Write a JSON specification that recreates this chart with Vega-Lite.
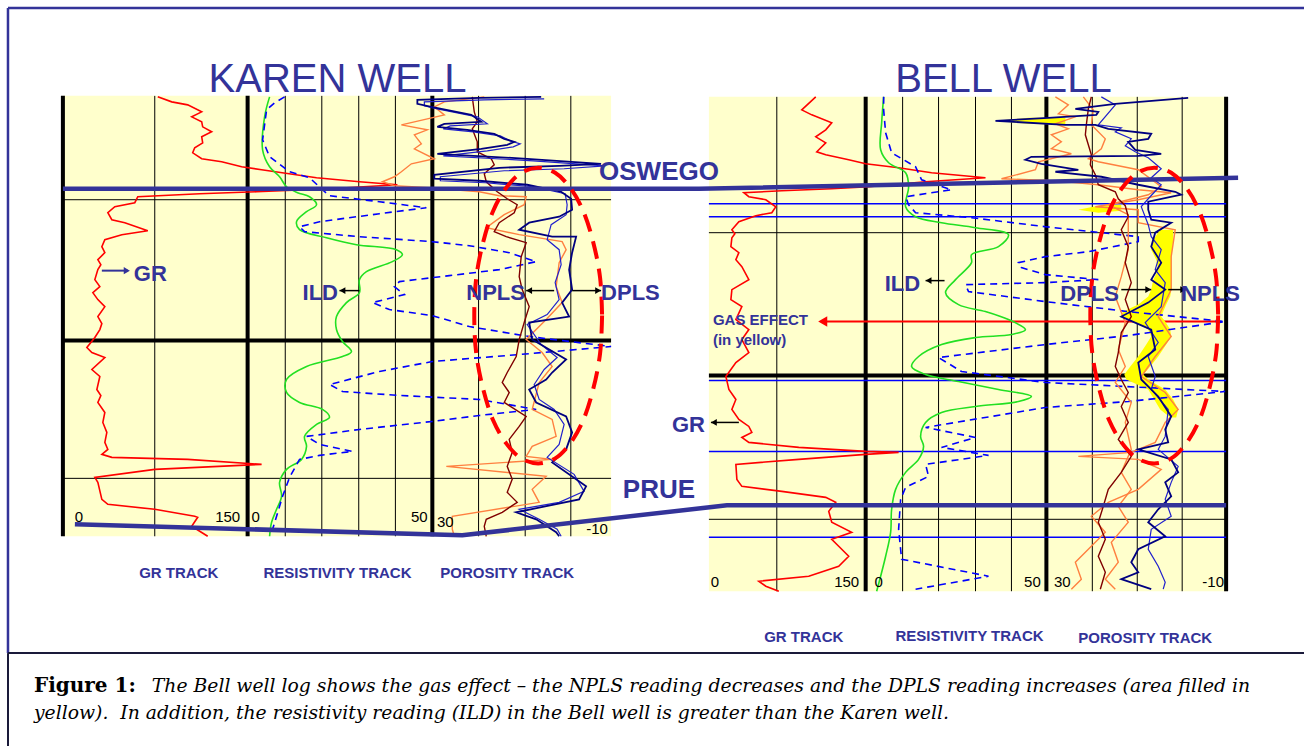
{
"$schema": "https://vega.github.io/schema/vega-lite/v6.json",
"width": 1306, "height": 747,
"autosize": {"type": "fit", "contains": "padding"},
"padding": 0,
"background": "white",
"config": {"view": {"stroke": null}},
"datasets": {
"panels": [{"x":63,"x2":612,"y":96,"y2":537},{"x":710,"x2":1228,"y":97,"y2":592}],
"gridThin": [
{"x":155,"x2":155,"y":96,"y2":537},{"x":285.7,"x2":285.7,"y":96,"y2":537},{"x":322.3,"x2":322.3,"y":96,"y2":537},{"x":359.3,"x2":359.3,"y":96,"y2":537},{"x":396,"x2":396,"y":96,"y2":537},{"x":479.3,"x2":479.3,"y":96,"y2":537},{"x":526,"x2":526,"y":96,"y2":537},{"x":571.7,"x2":571.7,"y":96,"y2":537},
{"x":63,"x2":612,"y":200,"y2":200},{"x":63,"x2":612,"y":479,"y2":479},
{"x":778,"x2":778,"y":97,"y2":592},{"x":904,"x2":904,"y":97,"y2":592},{"x":940,"x2":940,"y":97,"y2":592},{"x":977,"x2":977,"y":97,"y2":592},{"x":1013,"x2":1013,"y":97,"y2":592},{"x":1094,"x2":1094,"y":97,"y2":592},{"x":1139,"x2":1139,"y":97,"y2":592},{"x":1184,"x2":1184,"y":97,"y2":592},
{"x":710,"x2":1228,"y":233,"y2":233},{"x":710,"x2":1228,"y":520,"y2":520}],
"gridThick": [
{"x":63,"x2":63,"y":96,"y2":537},{"x":248,"x2":248,"y":96,"y2":537},{"x":433,"x2":433,"y":96,"y2":537},{"x":63,"x2":612,"y":341,"y2":341},
{"x":867,"x2":867,"y":97,"y2":592},{"x":1048,"x2":1048,"y":97,"y2":592},{"x":1228,"x2":1228,"y":97,"y2":592},{"x":710,"x2":1228,"y":376,"y2":376}],
"bellBlue": [{"x":710,"x2":1228,"y":204},{"x":710,"x2":1228,"y":217},{"x":710,"x2":1228,"y":381},{"x":710,"x2":1228,"y":452},{"x":710,"x2":1228,"y":538}],
"gasLine": [{"x":822,"x2":1218,"y":322}],
"gasHead": [{"x":824,"y":322}],
"yellowMain": [
{"y":230,"xa":1162,"xb":1175},{"y":240,"xa":1155,"xb":1175},{"y":250,"xa":1153,"xb":1174},{"y":260,"xa":1158,"xb":1173},{"y":270,"xa":1160,"xb":1173},{"y":280,"xa":1155,"xb":1173},{"y":290,"xa":1153,"xb":1173},{"y":297,"xa":1150,"xb":1172},{"y":305,"xa":1140,"xb":1168},{"y":312,"xa":1125,"xb":1165},{"y":317,"xa":1122,"xb":1163},{"y":322,"xa":1135,"xb":1167},{"y":330,"xa":1150,"xb":1172},{"y":337,"xa":1153,"xb":1173},{"y":345,"xa":1148,"xb":1168},{"y":357,"xa":1140,"xb":1160},{"y":367,"xa":1132,"xb":1152},{"y":375,"xa":1126,"xb":1145},{"y":380,"xa":1128,"xb":1150},{"y":390,"xa":1150,"xb":1167},{"y":400,"xa":1156,"xb":1175},{"y":410,"xa":1162,"xb":1180},{"y":418,"xa":1172,"xb":1178}],
"yellowSliver": [
{"g":"a","x":997,"ya":121,"yb":121},{"g":"a","x":1030,"ya":118,"yb":124},{"g":"a","x":1067,"ya":118,"yb":125},
{"g":"b","x":1080,"ya":210,"yb":210},{"g":"b","x":1100,"ya":206,"yb":213},{"g":"b","x":1123,"ya":205,"yb":211}],
"red": [
{"s":"K","x":158,"y":97},{"s":"K","x":172,"y":102},{"s":"K","x":188,"y":105},{"s":"K","x":202,"y":112},{"s":"K","x":192,"y":117},{"s":"K","x":202,"y":122},{"s":"K","x":203,"y":127},{"s":"K","x":212,"y":132},{"s":"K","x":202,"y":137},{"s":"K","x":203,"y":143},{"s":"K","x":195,"y":148},{"s":"K","x":193,"y":153},{"s":"K","x":202,"y":159},{"s":"K","x":222,"y":162},{"s":"K","x":242,"y":167},{"s":"K","x":262,"y":170},{"s":"K","x":317,"y":178},{"s":"K","x":360,"y":182},{"s":"K","x":398,"y":185},{"s":"K","x":330,"y":189},{"s":"K","x":257,"y":192},{"s":"K","x":200,"y":194},{"s":"K","x":138,"y":197},{"s":"K","x":135,"y":203},{"s":"K","x":115,"y":207},{"s":"K","x":108,"y":213},{"s":"K","x":112,"y":220},{"s":"K","x":125,"y":223},{"s":"K","x":148,"y":231},{"s":"K","x":122,"y":235},{"s":"K","x":105,"y":240},{"s":"K","x":102,"y":247},{"s":"K","x":105,"y":253},{"s":"K","x":98,"y":260},{"s":"K","x":101,"y":265},{"s":"K","x":98,"y":270},{"s":"K","x":95,"y":280},{"s":"K","x":100,"y":287},{"s":"K","x":93,"y":293},{"s":"K","x":98,"y":300},{"s":"K","x":105,"y":307},{"s":"K","x":98,"y":317},{"s":"K","x":102,"y":324},{"s":"K","x":100,"y":330},{"s":"K","x":95,"y":338},{"s":"K","x":87,"y":348},{"s":"K","x":92,"y":353},{"s":"K","x":105,"y":358},{"s":"K","x":92,"y":370},{"s":"K","x":100,"y":377},{"s":"K","x":97,"y":390},{"s":"K","x":101,"y":396},{"s":"K","x":98,"y":403},{"s":"K","x":105,"y":413},{"s":"K","x":103,"y":423},{"s":"K","x":107,"y":433},{"s":"K","x":105,"y":443},{"s":"K","x":108,"y":450},{"s":"K","x":102,"y":455},{"s":"K","x":112,"y":458},{"s":"K","x":188,"y":460},{"s":"K","x":262,"y":465},{"s":"K","x":155,"y":470},{"s":"K","x":95,"y":478},{"s":"K","x":98,"y":483},{"s":"K","x":102,"y":500},{"s":"K","x":108,"y":505},{"s":"K","x":155,"y":510},{"s":"K","x":195,"y":517},{"s":"K","x":198,"y":518},{"s":"K","x":192,"y":527},{"s":"K","x":208,"y":537},
{"s":"B","x":817,"y":97},{"s":"B","x":803,"y":110},{"s":"B","x":813,"y":115},{"s":"B","x":833,"y":123},{"s":"B","x":827,"y":130},{"s":"B","x":817,"y":137},{"s":"B","x":827,"y":143},{"s":"B","x":818,"y":152},{"s":"B","x":827,"y":155},{"s":"B","x":850,"y":160},{"s":"B","x":867,"y":164},{"s":"B","x":900,"y":168},{"s":"B","x":933,"y":173},{"s":"B","x":987,"y":178},{"s":"B","x":927,"y":182},{"s":"B","x":870,"y":187},{"s":"B","x":833,"y":189},{"s":"B","x":783,"y":191},{"s":"B","x":745,"y":193},{"s":"B","x":750,"y":197},{"s":"B","x":767,"y":200},{"s":"B","x":777,"y":207},{"s":"B","x":773,"y":213},{"s":"B","x":757,"y":216},{"s":"B","x":740,"y":222},{"s":"B","x":733,"y":230},{"s":"B","x":736,"y":234},{"s":"B","x":733,"y":238},{"s":"B","x":732,"y":247},{"s":"B","x":740,"y":253},{"s":"B","x":737,"y":260},{"s":"B","x":743,"y":267},{"s":"B","x":750,"y":280},{"s":"B","x":733,"y":290},{"s":"B","x":732,"y":300},{"s":"B","x":743,"y":307},{"s":"B","x":737,"y":320},{"s":"B","x":750,"y":330},{"s":"B","x":743,"y":340},{"s":"B","x":750,"y":353},{"s":"B","x":737,"y":363},{"s":"B","x":727,"y":377},{"s":"B","x":730,"y":390},{"s":"B","x":737,"y":400},{"s":"B","x":733,"y":410},{"s":"B","x":740,"y":420},{"s":"B","x":750,"y":427},{"s":"B","x":753,"y":433},{"s":"B","x":743,"y":438},{"s":"B","x":750,"y":443},{"s":"B","x":800,"y":448},{"s":"B","x":867,"y":452},{"s":"B","x":900,"y":453},{"s":"B","x":867,"y":455},{"s":"B","x":800,"y":460},{"s":"B","x":737,"y":465},{"s":"B","x":738,"y":480},{"s":"B","x":743,"y":487},{"s":"B","x":783,"y":492},{"s":"B","x":827,"y":498},{"s":"B","x":837,"y":503},{"s":"B","x":830,"y":512},{"s":"B","x":833,"y":523},{"s":"B","x":853,"y":533},{"s":"B","x":833,"y":540},{"s":"B","x":840,"y":547},{"s":"B","x":850,"y":557},{"s":"B","x":840,"y":567},{"s":"B","x":810,"y":577},{"s":"B","x":760,"y":582},{"s":"B","x":767,"y":587},{"s":"B","x":780,"y":592}],
"green": [
{"s":"K","x":270,"y":97},{"s":"K","x":265,"y":117},{"s":"K","x":263,"y":150},{"s":"K","x":270,"y":167},{"s":"K","x":280,"y":177},{"s":"K","x":287,"y":187},{"s":"K","x":298,"y":193},{"s":"K","x":310,"y":197},{"s":"K","x":317,"y":205},{"s":"K","x":307,"y":212},{"s":"K","x":297,"y":222},{"s":"K","x":300,"y":230},{"s":"K","x":327,"y":238},{"s":"K","x":357,"y":245},{"s":"K","x":397,"y":250},{"s":"K","x":403,"y":255},{"s":"K","x":393,"y":262},{"s":"K","x":367,"y":272},{"s":"K","x":360,"y":280},{"s":"K","x":360,"y":293},{"s":"K","x":347,"y":303},{"s":"K","x":337,"y":317},{"s":"K","x":337,"y":330},{"s":"K","x":343,"y":342},{"s":"K","x":352,"y":352},{"s":"K","x":343,"y":357},{"s":"K","x":307,"y":367},{"s":"K","x":287,"y":380},{"s":"K","x":287,"y":393},{"s":"K","x":300,"y":403},{"s":"K","x":323,"y":410},{"s":"K","x":330,"y":418},{"s":"K","x":317,"y":425},{"s":"K","x":305,"y":437},{"s":"K","x":307,"y":447},{"s":"K","x":302,"y":460},{"s":"K","x":287,"y":470},{"s":"K","x":280,"y":483},{"s":"K","x":282,"y":497},{"s":"K","x":277,"y":510},{"s":"K","x":272,"y":523},{"s":"K","x":270,"y":537},
{"s":"B","x":885,"y":97},{"s":"B","x":883,"y":123},{"s":"B","x":882,"y":150},{"s":"B","x":890,"y":163},{"s":"B","x":907,"y":173},{"s":"B","x":910,"y":187},{"s":"B","x":907,"y":207},{"s":"B","x":917,"y":217},{"s":"B","x":943,"y":223},{"s":"B","x":977,"y":228},{"s":"B","x":1010,"y":235},{"s":"B","x":1000,"y":247},{"s":"B","x":973,"y":255},{"s":"B","x":973,"y":263},{"s":"B","x":957,"y":280},{"s":"B","x":947,"y":293},{"s":"B","x":960,"y":305},{"s":"B","x":987,"y":312},{"s":"B","x":1010,"y":320},{"s":"B","x":1027,"y":330},{"s":"B","x":1013,"y":335},{"s":"B","x":977,"y":338},{"s":"B","x":943,"y":345},{"s":"B","x":920,"y":357},{"s":"B","x":913,"y":367},{"s":"B","x":927,"y":375},{"s":"B","x":960,"y":382},{"s":"B","x":1000,"y":390},{"s":"B","x":1033,"y":397},{"s":"B","x":1020,"y":402},{"s":"B","x":977,"y":407},{"s":"B","x":943,"y":413},{"s":"B","x":927,"y":423},{"s":"B","x":922,"y":437},{"s":"B","x":925,"y":447},{"s":"B","x":920,"y":460},{"s":"B","x":907,"y":473},{"s":"B","x":897,"y":490},{"s":"B","x":893,"y":510},{"s":"B","x":892,"y":533},{"s":"B","x":887,"y":557},{"s":"B","x":882,"y":577},{"s":"B","x":878,"y":592}],
"dash": [
{"s":"K","x":285,"y":97},{"s":"K","x":275,"y":103},{"s":"K","x":267,"y":110},{"s":"K","x":263,"y":140},{"s":"K","x":270,"y":157},{"s":"K","x":290,"y":172},{"s":"K","x":310,"y":178},{"s":"K","x":323,"y":190},{"s":"K","x":330,"y":196},{"s":"K","x":380,"y":202},{"s":"K","x":427,"y":208},{"s":"K","x":380,"y":214},{"s":"K","x":320,"y":222},{"s":"K","x":300,"y":227},{"s":"K","x":305,"y":232},{"s":"K","x":360,"y":237},{"s":"K","x":433,"y":242},{"s":"K","x":470,"y":246},{"s":"K","x":510,"y":253},{"s":"K","x":537,"y":262},{"s":"K","x":500,"y":270},{"s":"K","x":450,"y":276},{"s":"K","x":433,"y":278},{"s":"K","x":400,"y":282},{"s":"K","x":395,"y":287},{"s":"K","x":405,"y":295},{"s":"K","x":385,"y":300},{"s":"K","x":373,"y":303},{"s":"K","x":390,"y":310},{"s":"K","x":433,"y":316},{"s":"K","x":470,"y":327},{"s":"K","x":530,"y":337},{"s":"K","x":612,"y":347},{"s":"K","x":520,"y":355},{"s":"K","x":433,"y":362},{"s":"K","x":380,"y":372},{"s":"K","x":330,"y":385},{"s":"K","x":343,"y":392},{"s":"K","x":400,"y":396},{"s":"K","x":480,"y":400},{"s":"K","x":537,"y":410},{"s":"K","x":480,"y":416},{"s":"K","x":433,"y":422},{"s":"K","x":360,"y":430},{"s":"K","x":307,"y":437},{"s":"K","x":320,"y":445},{"s":"K","x":353,"y":452},{"s":"K","x":320,"y":456},{"s":"K","x":300,"y":460},{"s":"K","x":290,"y":478},{"s":"K","x":283,"y":497},{"s":"K","x":277,"y":517},{"s":"K","x":273,"y":530},{"s":"K","x":272,"y":537},
{"s":"B","x":885,"y":97},{"s":"B","x":885,"y":110},{"s":"B","x":887,"y":133},{"s":"B","x":893,"y":153},{"s":"B","x":917,"y":167},{"s":"B","x":923,"y":180},{"s":"B","x":953,"y":190},{"s":"B","x":907,"y":197},{"s":"B","x":910,"y":205},{"s":"B","x":917,"y":213},{"s":"B","x":973,"y":218},{"s":"B","x":1047,"y":227},{"s":"B","x":1140,"y":237},{"s":"B","x":1140,"y":242},{"s":"B","x":1090,"y":252},{"s":"B","x":1047,"y":257},{"s":"B","x":1020,"y":263},{"s":"B","x":1023,"y":268},{"s":"B","x":1047,"y":275},{"s":"B","x":1100,"y":280},{"s":"B","x":1047,"y":283},{"s":"B","x":967,"y":285},{"s":"B","x":970,"y":292},{"s":"B","x":1047,"y":302},{"s":"B","x":1130,"y":312},{"s":"B","x":1227,"y":322},{"s":"B","x":1130,"y":336},{"s":"B","x":1047,"y":345},{"s":"B","x":940,"y":358},{"s":"B","x":963,"y":372},{"s":"B","x":1047,"y":383},{"s":"B","x":1227,"y":392},{"s":"B","x":1130,"y":402},{"s":"B","x":1047,"y":408},{"s":"B","x":927,"y":428},{"s":"B","x":977,"y":438},{"s":"B","x":943,"y":448},{"s":"B","x":990,"y":456},{"s":"B","x":927,"y":465},{"s":"B","x":930,"y":477},{"s":"B","x":907,"y":488},{"s":"B","x":902,"y":500},{"s":"B","x":900,"y":530},{"s":"B","x":903,"y":560},{"s":"B","x":990,"y":577},{"s":"B","x":917,"y":590}],
"orange": [
{"s":"K","x":485,"y":97},{"s":"K","x":445,"y":102},{"s":"K","x":435,"y":107},{"s":"K","x":445,"y":115},{"s":"K","x":428,"y":119},{"s":"K","x":402,"y":125},{"s":"K","x":428,"y":130},{"s":"K","x":415,"y":135},{"s":"K","x":422,"y":144},{"s":"K","x":415,"y":149},{"s":"K","x":435,"y":159},{"s":"K","x":412,"y":164},{"s":"K","x":402,"y":172},{"s":"K","x":395,"y":177},{"s":"K","x":383,"y":182},{"s":"K","x":395,"y":186},{"s":"K","x":430,"y":188},{"s":"K","x":480,"y":192},{"s":"K","x":500,"y":196},{"s":"K","x":527,"y":197},{"s":"K","x":525,"y":205},{"s":"K","x":505,"y":215},{"s":"K","x":487,"y":228},{"s":"K","x":520,"y":235},{"s":"K","x":563,"y":242},{"s":"K","x":567,"y":250},{"s":"K","x":560,"y":263},{"s":"K","x":557,"y":287},{"s":"K","x":563,"y":303},{"s":"K","x":547,"y":320},{"s":"K","x":527,"y":340},{"s":"K","x":543,"y":353},{"s":"K","x":553,"y":367},{"s":"K","x":540,"y":383},{"s":"K","x":533,"y":410},{"s":"K","x":553,"y":420},{"s":"K","x":557,"y":437},{"s":"K","x":533,"y":447},{"s":"K","x":527,"y":457},{"s":"K","x":553,"y":460},{"s":"K","x":447,"y":467},{"s":"K","x":547,"y":477},{"s":"K","x":533,"y":490},{"s":"K","x":540,"y":503},{"s":"K","x":453,"y":517},{"s":"K","x":453,"y":530},{"s":"K","x":455,"y":537},
{"s":"B1","x":1057,"y":97},{"s":"B1","x":1070,"y":105},{"s":"B1","x":1060,"y":114},{"s":"B1","x":1077,"y":117},{"s":"B1","x":1057,"y":124},{"s":"B1","x":1070,"y":129},{"s":"B1","x":1053,"y":135},{"s":"B1","x":1063,"y":142},{"s":"B1","x":1053,"y":149},{"s":"B1","x":1073,"y":154},{"s":"B1","x":1040,"y":162},{"s":"B1","x":1037,"y":170},{"s":"B1","x":1003,"y":179},{"s":"B1","x":1057,"y":181},{"s":"B1","x":1100,"y":185},{"s":"B1","x":1140,"y":190},{"s":"B1","x":1173,"y":193},{"s":"B1","x":1140,"y":200},{"s":"B1","x":1097,"y":207},{"s":"B1","x":1140,"y":210},{"s":"B1","x":1140,"y":223},{"s":"B1","x":1177,"y":230},{"s":"B1","x":1173,"y":257},{"s":"B1","x":1173,"y":290},{"s":"B1","x":1160,"y":317},{"s":"B1","x":1173,"y":337},{"s":"B1","x":1157,"y":357},{"s":"B1","x":1143,"y":377},{"s":"B1","x":1167,"y":393},{"s":"B1","x":1180,"y":410},{"s":"B1","x":1167,"y":423},{"s":"B1","x":1157,"y":443},{"s":"B1","x":1133,"y":453},{"s":"B1","x":1080,"y":457},{"s":"B1","x":1140,"y":460},{"s":"B1","x":1163,"y":470},{"s":"B1","x":1140,"y":490},{"s":"B1","x":1110,"y":503},{"s":"B1","x":1093,"y":517},{"s":"B1","x":1107,"y":533},{"s":"B1","x":1090,"y":550},{"s":"B1","x":1077,"y":563},{"s":"B1","x":1083,"y":580},{"s":"B1","x":1073,"y":590},
{"s":"B2","x":1085,"y":97},{"s":"B2","x":1095,"y":110},{"s":"B2","x":1093,"y":125},{"s":"B2","x":1107,"y":139},{"s":"B2","x":1103,"y":149},{"s":"B2","x":1090,"y":159},{"s":"B2","x":1100,"y":162},{"s":"B2","x":1140,"y":170},{"s":"B2","x":1163,"y":187},{"s":"B2","x":1150,"y":195},{"s":"B2","x":1110,"y":205},{"s":"B2","x":1130,"y":215},{"s":"B2","x":1130,"y":223},{"s":"B2","x":1130,"y":250},{"s":"B2","x":1123,"y":277},{"s":"B2","x":1117,"y":297},{"s":"B2","x":1127,"y":323},{"s":"B2","x":1120,"y":350},{"s":"B2","x":1127,"y":367},{"s":"B2","x":1117,"y":383},{"s":"B2","x":1133,"y":403},{"s":"B2","x":1127,"y":423},{"s":"B2","x":1133,"y":450},{"s":"B2","x":1123,"y":473},{"s":"B2","x":1133,"y":490},{"s":"B2","x":1120,"y":507},{"s":"B2","x":1130,"y":523},{"s":"B2","x":1113,"y":543},{"s":"B2","x":1120,"y":563},{"s":"B2","x":1107,"y":580},{"s":"B2","x":1117,"y":590}],
"brown": [
{"s":"K","x":473,"y":97},{"s":"K","x":475,"y":112},{"s":"K","x":478,"y":122},{"s":"K","x":473,"y":129},{"s":"K","x":478,"y":142},{"s":"K","x":478,"y":152},{"s":"K","x":492,"y":159},{"s":"K","x":495,"y":165},{"s":"K","x":485,"y":174},{"s":"K","x":487,"y":182},{"s":"K","x":498,"y":192},{"s":"K","x":508,"y":199},{"s":"K","x":518,"y":205},{"s":"K","x":515,"y":213},{"s":"K","x":500,"y":223},{"s":"K","x":495,"y":232},{"s":"K","x":507,"y":237},{"s":"K","x":527,"y":243},{"s":"K","x":522,"y":257},{"s":"K","x":520,"y":277},{"s":"K","x":523,"y":290},{"s":"K","x":530,"y":307},{"s":"K","x":525,"y":323},{"s":"K","x":520,"y":340},{"s":"K","x":517,"y":357},{"s":"K","x":508,"y":373},{"s":"K","x":503,"y":383},{"s":"K","x":510,"y":393},{"s":"K","x":505,"y":403},{"s":"K","x":527,"y":417},{"s":"K","x":520,"y":427},{"s":"K","x":510,"y":440},{"s":"K","x":513,"y":453},{"s":"K","x":508,"y":467},{"s":"K","x":513,"y":480},{"s":"K","x":508,"y":493},{"s":"K","x":518,"y":503},{"s":"K","x":503,"y":513},{"s":"K","x":487,"y":520},{"s":"K","x":485,"y":527},{"s":"K","x":487,"y":537},
{"s":"B","x":1093,"y":97},{"s":"B","x":1090,"y":109},{"s":"B","x":1088,"y":125},{"s":"B","x":1087,"y":135},{"s":"B","x":1090,"y":145},{"s":"B","x":1093,"y":155},{"s":"B","x":1092,"y":165},{"s":"B","x":1097,"y":175},{"s":"B","x":1100,"y":185},{"s":"B","x":1117,"y":192},{"s":"B","x":1120,"y":199},{"s":"B","x":1127,"y":206},{"s":"B","x":1130,"y":217},{"s":"B","x":1123,"y":230},{"s":"B","x":1130,"y":247},{"s":"B","x":1127,"y":263},{"s":"B","x":1133,"y":283},{"s":"B","x":1127,"y":300},{"s":"B","x":1133,"y":317},{"s":"B","x":1123,"y":333},{"s":"B","x":1120,"y":353},{"s":"B","x":1117,"y":367},{"s":"B","x":1123,"y":380},{"s":"B","x":1130,"y":393},{"s":"B","x":1123,"y":407},{"s":"B","x":1130,"y":423},{"s":"B","x":1120,"y":440},{"s":"B","x":1133,"y":457},{"s":"B","x":1123,"y":473},{"s":"B","x":1110,"y":490},{"s":"B","x":1105,"y":507},{"s":"B","x":1100,"y":523},{"s":"B","x":1107,"y":540},{"s":"B","x":1100,"y":557},{"s":"B","x":1107,"y":573},{"s":"B","x":1102,"y":590}],
"navy": [
{"s":"K","x":542,"y":97},{"s":"K","x":480,"y":98},{"s":"K","x":418,"y":100},{"s":"K","x":418,"y":104},{"s":"K","x":432,"y":107},{"s":"K","x":472,"y":115},{"s":"K","x":482,"y":122},{"s":"K","x":445,"y":124},{"s":"K","x":438,"y":127},{"s":"K","x":468,"y":130},{"s":"K","x":495,"y":134},{"s":"K","x":505,"y":139},{"s":"K","x":515,"y":142},{"s":"K","x":508,"y":145},{"s":"K","x":482,"y":149},{"s":"K","x":438,"y":154},{"s":"K","x":528,"y":159},{"s":"K","x":602,"y":164},{"s":"K","x":560,"y":166},{"s":"K","x":500,"y":168},{"s":"K","x":435,"y":175},{"s":"K","x":435,"y":179},{"s":"K","x":480,"y":181},{"s":"K","x":528,"y":185},{"s":"K","x":562,"y":192},{"s":"K","x":572,"y":199},{"s":"K","x":573,"y":210},{"s":"K","x":560,"y":217},{"s":"K","x":530,"y":223},{"s":"K","x":520,"y":230},{"s":"K","x":553,"y":237},{"s":"K","x":577,"y":237},{"s":"K","x":573,"y":253},{"s":"K","x":570,"y":270},{"s":"K","x":573,"y":290},{"s":"K","x":563,"y":303},{"s":"K","x":570,"y":317},{"s":"K","x":530,"y":323},{"s":"K","x":533,"y":340},{"s":"K","x":567,"y":360},{"s":"K","x":553,"y":373},{"s":"K","x":547,"y":380},{"s":"K","x":530,"y":390},{"s":"K","x":537,"y":403},{"s":"K","x":567,"y":417},{"s":"K","x":573,"y":433},{"s":"K","x":567,"y":450},{"s":"K","x":553,"y":463},{"s":"K","x":587,"y":487},{"s":"K","x":580,"y":500},{"s":"K","x":517,"y":513},{"s":"K","x":537,"y":520},{"s":"K","x":557,"y":533},{"s":"K","x":560,"y":537},
{"s":"B","x":1190,"y":98},{"s":"B","x":1117,"y":104},{"s":"B","x":1077,"y":109},{"s":"B","x":1100,"y":112},{"s":"B","x":1098,"y":115},{"s":"B","x":1050,"y":118},{"s":"B","x":997,"y":121},{"s":"B","x":1067,"y":125},{"s":"B","x":1097,"y":125},{"s":"B","x":1110,"y":129},{"s":"B","x":1153,"y":134},{"s":"B","x":1150,"y":139},{"s":"B","x":1130,"y":142},{"s":"B","x":1137,"y":150},{"s":"B","x":1163,"y":154},{"s":"B","x":1140,"y":156},{"s":"B","x":1033,"y":157},{"s":"B","x":1027,"y":160},{"s":"B","x":1043,"y":164},{"s":"B","x":1080,"y":170},{"s":"B","x":1057,"y":172},{"s":"B","x":1103,"y":177},{"s":"B","x":1140,"y":185},{"s":"B","x":1177,"y":192},{"s":"B","x":1183,"y":195},{"s":"B","x":1150,"y":202},{"s":"B","x":1150,"y":210},{"s":"B","x":1153,"y":220},{"s":"B","x":1173,"y":223},{"s":"B","x":1157,"y":233},{"s":"B","x":1153,"y":247},{"s":"B","x":1163,"y":263},{"s":"B","x":1153,"y":280},{"s":"B","x":1167,"y":290},{"s":"B","x":1150,"y":303},{"s":"B","x":1123,"y":317},{"s":"B","x":1153,"y":330},{"s":"B","x":1157,"y":350},{"s":"B","x":1140,"y":363},{"s":"B","x":1143,"y":380},{"s":"B","x":1160,"y":397},{"s":"B","x":1173,"y":417},{"s":"B","x":1167,"y":430},{"s":"B","x":1170,"y":443},{"s":"B","x":1140,"y":450},{"s":"B","x":1173,"y":460},{"s":"B","x":1180,"y":473},{"s":"B","x":1167,"y":483},{"s":"B","x":1173,"y":497},{"s":"B","x":1160,"y":510},{"s":"B","x":1150,"y":523},{"s":"B","x":1167,"y":537},{"s":"B","x":1140,"y":550},{"s":"B","x":1133,"y":563},{"s":"B","x":1140,"y":573},{"s":"B","x":1123,"y":580},{"s":"B","x":1153,"y":590}],
"blue": [
{"s":"K","x":545,"y":99},{"s":"K","x":485,"y":100},{"s":"K","x":425,"y":102},{"s":"K","x":425,"y":106},{"s":"K","x":438,"y":109},{"s":"K","x":478,"y":117},{"s":"K","x":488,"y":124},{"s":"K","x":451,"y":126},{"s":"K","x":444,"y":129},{"s":"K","x":474,"y":132},{"s":"K","x":501,"y":136},{"s":"K","x":511,"y":141},{"s":"K","x":521,"y":144},{"s":"K","x":514,"y":147},{"s":"K","x":488,"y":151},{"s":"K","x":444,"y":156},{"s":"K","x":534,"y":161},{"s":"K","x":606,"y":166},{"s":"K","x":565,"y":169},{"s":"K","x":505,"y":171},{"s":"K","x":441,"y":177},{"s":"K","x":441,"y":181},{"s":"K","x":486,"y":183},{"s":"K","x":534,"y":187},{"s":"K","x":566,"y":194},{"s":"K","x":568,"y":205},{"s":"K","x":567,"y":215},{"s":"K","x":552,"y":225},{"s":"K","x":548,"y":240},{"s":"K","x":560,"y":250},{"s":"K","x":562,"y":265},{"s":"K","x":556,"y":283},{"s":"K","x":560,"y":300},{"s":"K","x":548,"y":315},{"s":"K","x":528,"y":325},{"s":"K","x":542,"y":345},{"s":"K","x":558,"y":358},{"s":"K","x":545,"y":370},{"s":"K","x":535,"y":385},{"s":"K","x":540,"y":400},{"s":"K","x":555,"y":410},{"s":"K","x":565,"y":425},{"s":"K","x":560,"y":445},{"s":"K","x":548,"y":458},{"s":"K","x":575,"y":475},{"s":"K","x":585,"y":492},{"s":"K","x":560,"y":503},{"s":"K","x":520,"y":510},{"s":"K","x":540,"y":520},{"s":"K","x":558,"y":530},{"s":"K","x":562,"y":537},
{"s":"B","x":1103,"y":97},{"s":"B","x":1117,"y":105},{"s":"B","x":1100,"y":125},{"s":"B","x":1123,"y":128},{"s":"B","x":1117,"y":132},{"s":"B","x":1133,"y":139},{"s":"B","x":1127,"y":146},{"s":"B","x":1137,"y":152},{"s":"B","x":1150,"y":158},{"s":"B","x":1163,"y":169},{"s":"B","x":1153,"y":178},{"s":"B","x":1163,"y":185},{"s":"B","x":1150,"y":199},{"s":"B","x":1143,"y":207},{"s":"B","x":1150,"y":225},{"s":"B","x":1153,"y":237},{"s":"B","x":1163,"y":250},{"s":"B","x":1157,"y":270},{"s":"B","x":1167,"y":283},{"s":"B","x":1163,"y":307},{"s":"B","x":1147,"y":323},{"s":"B","x":1160,"y":343},{"s":"B","x":1150,"y":357},{"s":"B","x":1157,"y":377},{"s":"B","x":1153,"y":390},{"s":"B","x":1170,"y":410},{"s":"B","x":1167,"y":437},{"s":"B","x":1160,"y":450},{"s":"B","x":1180,"y":467},{"s":"B","x":1173,"y":483},{"s":"B","x":1167,"y":500},{"s":"B","x":1173,"y":517},{"s":"B","x":1153,"y":530},{"s":"B","x":1150,"y":550},{"s":"B","x":1160,"y":567},{"s":"B","x":1167,"y":583},{"s":"B","x":1165,"y":590}],
"formations": [
{"s":"OSWEGO","x":63,"y":189},{"s":"OSWEGO","x":700,"y":189},{"s":"OSWEGO","x":1240,"y":178},
{"s":"PRUE","x":75,"y":525},{"s":"PRUE","x":463,"y":536},{"s":"PRUE","x":728,"y":506},{"s":"PRUE","x":1228,"y":506}],
"ellipses": [
{"s":"K","x":603,"y":316},{"s":"K","x":601,"y":354},{"s":"K","x":594,"y":390},{"s":"K","x":584,"y":421},{"s":"K","x":571,"y":444},{"s":"K","x":556,"y":459},{"s":"K","x":539,"y":464},{"s":"K","x":522,"y":459},{"s":"K","x":507,"y":444},{"s":"K","x":494,"y":421},{"s":"K","x":484,"y":390},{"s":"K","x":477,"y":354},{"s":"K","x":475,"y":316},{"s":"K","x":477,"y":278},{"s":"K","x":484,"y":242},{"s":"K","x":494,"y":211},{"s":"K","x":507,"y":188},{"s":"K","x":522,"y":173},{"s":"K","x":539,"y":168},{"s":"K","x":556,"y":173},{"s":"K","x":571,"y":188},{"s":"K","x":584,"y":211},{"s":"K","x":594,"y":242},{"s":"K","x":601,"y":278},{"s":"K","x":603,"y":316},
{"s":"B","x":1220,"y":316},{"s":"B","x":1218,"y":354},{"s":"B","x":1211,"y":390},{"s":"B","x":1201,"y":421},{"s":"B","x":1188,"y":444},{"s":"B","x":1173,"y":459},{"s":"B","x":1156,"y":464},{"s":"B","x":1139,"y":459},{"s":"B","x":1124,"y":444},{"s":"B","x":1111,"y":421},{"s":"B","x":1101,"y":390},{"s":"B","x":1094,"y":354},{"s":"B","x":1092,"y":316},{"s":"B","x":1094,"y":278},{"s":"B","x":1101,"y":242},{"s":"B","x":1111,"y":211},{"s":"B","x":1124,"y":188},{"s":"B","x":1139,"y":173},{"s":"B","x":1156,"y":168},{"s":"B","x":1173,"y":173},{"s":"B","x":1188,"y":188},{"s":"B","x":1201,"y":211},{"s":"B","x":1211,"y":242},{"s":"B","x":1218,"y":278},{"s":"B","x":1220,"y":316}],
"arrowsBlack": [{"x":340,"x2":360,"y":291},{"x":527,"x2":555,"y":291},{"x":573,"x2":602,"y":291},{"x":927,"x2":946,"y":281},{"x":1123,"x2":1153,"y":290},{"x":1170,"x2":1188,"y":290},{"x":712,"x2":740,"y":423}],
"headsBlack": [{"x":343,"y":291,"d":"L"},{"x":530,"y":291,"d":"L"},{"x":599,"y":291,"d":"R"},{"x":930,"y":281,"d":"L"},{"x":1150,"y":290,"d":"R"},{"x":1185,"y":290,"d":"R"},{"x":715,"y":423,"d":"L"}],
"arrowNavy": [{"x":102,"x2":128,"y":271}],
"headNavy": [{"x":127,"y":271}],
"frameNavy": [{"x":8,"x2":1306,"y":8,"y2":8},{"x":8,"x2":8,"y":8,"y2":654}],
"frameDark": [{"x":8,"x2":1306,"y":654,"y2":654},{"x":8,"x2":8,"y":654,"y2":747}],
"titles": [{"t":"KAREN WELL","x":338,"y":92},{"t":"BELL WELL","x":1005,"y":92}],
"formLabels": [{"t":"OSWEGO","x":660,"y":180},{"t":"PRUE","x":660,"y":499}],
"curveLabels": [{"t":"GR","x":134,"y":281},{"t":"ILD","x":303,"y":300},{"t":"NPLS","x":467,"y":300},{"t":"DPLS","x":602,"y":300},{"t":"ILD","x":886,"y":291},{"t":"DPLS","x":1062,"y":301},{"t":"NPLS","x":1183,"y":301},{"t":"GR","x":673,"y":433}],
"gasLabels": [{"t":"GAS EFFECT","x":714,"y":325},{"t":"(in yellow)","x":714,"y":345}],
"trackLabels": [{"t":"GR TRACK","x":179,"y":579},{"t":"RESISTIVITY TRACK","x":338,"y":579},{"t":"POROSITY TRACK","x":508,"y":579},{"t":"GR TRACK","x":805,"y":643},{"t":"RESISTIVITY TRACK","x":971,"y":642},{"t":"POROSITY TRACK","x":1147,"y":644}],
"nums": [{"t":"0","x":79,"y":523},{"t":"150","x":228,"y":523},{"t":"0","x":256,"y":523},{"t":"50","x":420,"y":523},{"t":"30","x":446,"y":528},{"t":"-10","x":598,"y":535},{"t":"0","x":716,"y":588},{"t":"150","x":848,"y":588},{"t":"0","x":880,"y":588},{"t":"50","x":1034,"y":588},{"t":"30","x":1064,"y":588},{"t":"-10","x":1215,"y":588}],
"capBold": [{"t":"Figure 1:","x":34,"y":693}],
"capItalic": [{"t":"The Bell well log shows the gas effect – the NPLS reading decreases and the DPLS reading increases (area filled in","x":152,"y":693},{"t":"yellow).\u00a0 In addition, the resistivity reading (ILD) in the Bell well is greater than the Karen well.","x":34,"y":720}]
},
"encoding": {
"x": {"field": "x", "type": "quantitative", "scale": {"domain": [0, 1306], "nice": false, "zero": false}, "axis": null},
"y": {"field": "y", "type": "quantitative", "scale": {"domain": [0, 747], "nice": false, "zero": false, "reverse": true}, "axis": null}
},
"layer": [
{"data": {"name": "panels"}, "mark": {"type": "rect", "fill": "#FFFFCC"}, "encoding": {"x2": {"field": "x2"}, "y2": {"field": "y2"}}},
{"data": {"name": "gridThin"}, "mark": {"type": "rule", "color": "#000000", "strokeWidth": 1}, "encoding": {"x2": {"field": "x2"}, "y2": {"field": "y2"}}},
{"data": {"name": "gridThick"}, "mark": {"type": "rule", "color": "#000000", "strokeWidth": 4}, "encoding": {"x2": {"field": "x2"}, "y2": {"field": "y2"}}},
{"data": {"name": "bellBlue"}, "mark": {"type": "rule", "color": "#0000FF", "strokeWidth": 1.5}, "encoding": {"x2": {"field": "x2"}}},
{"data": {"name": "gasLine"}, "mark": {"type": "rule", "color": "#FF0000", "strokeWidth": 2}, "encoding": {"x2": {"field": "x2"}}},
{"data": {"name": "gasHead"}, "mark": {"type": "point", "filled": true, "color": "#FF0000", "size": 110, "opacity": 1, "shape": "triangle-left"}},
{"data": {"name": "yellowMain"}, "mark": {"type": "area", "orient": "horizontal", "color": "#FFFF00", "opacity": 1}, "encoding": {"x": {"field": "xa", "type": "quantitative"}, "x2": {"field": "xb"}}},
{"data": {"name": "yellowSliver"}, "mark": {"type": "area", "orient": "vertical", "color": "#FFFF00", "opacity": 1}, "encoding": {"y": {"field": "ya", "type": "quantitative"}, "y2": {"field": "yb"}, "detail": {"field": "g", "type": "nominal"}}},
{"data": {"name": "red"}, "mark": {"type": "line", "color": "#FF0000", "strokeWidth": 1.6}, "encoding": {"detail": {"field": "s", "type": "nominal"}, "order": {"value": null}}},
{"data": {"name": "green"}, "mark": {"type": "line", "color": "#22E022", "strokeWidth": 1.6, "interpolate": "catmull-rom"}, "encoding": {"detail": {"field": "s", "type": "nominal"}, "order": {"value": null}}},
{"data": {"name": "dash"}, "mark": {"type": "line", "color": "#0000FF", "strokeWidth": 1.6, "strokeDash": [7, 5]}, "encoding": {"detail": {"field": "s", "type": "nominal"}, "order": {"value": null}}},
{"data": {"name": "orange"}, "mark": {"type": "line", "color": "#FF8040", "strokeWidth": 1.4}, "encoding": {"detail": {"field": "s", "type": "nominal"}, "order": {"value": null}}},
{"data": {"name": "brown"}, "mark": {"type": "line", "color": "#800000", "strokeWidth": 1.4}, "encoding": {"detail": {"field": "s", "type": "nominal"}, "order": {"value": null}}},
{"data": {"name": "blue"}, "mark": {"type": "line", "color": "#2020CC", "strokeWidth": 1.2}, "encoding": {"detail": {"field": "s", "type": "nominal"}, "order": {"value": null}}},
{"data": {"name": "navy"}, "mark": {"type": "line", "color": "#000080", "strokeWidth": 1.8}, "encoding": {"detail": {"field": "s", "type": "nominal"}, "order": {"value": null}}},
{"data": {"name": "formations"}, "mark": {"type": "line", "color": "#333399", "strokeWidth": 4.5}, "encoding": {"detail": {"field": "s", "type": "nominal"}, "order": {"value": null}}},
{"data": {"name": "ellipses"}, "mark": {"type": "line", "color": "#FF0000", "strokeWidth": 4, "strokeDash": [18, 10], "interpolate": "catmull-rom"}, "encoding": {"detail": {"field": "s", "type": "nominal"}, "order": {"value": null}}},
{"data": {"name": "arrowsBlack"}, "mark": {"type": "rule", "color": "#000000", "strokeWidth": 1.5}, "encoding": {"x2": {"field": "x2"}}},
{"data": {"name": "headsBlack"}, "mark": {"type": "point", "filled": true, "color": "#000000", "size": 45, "opacity": 1}, "encoding": {"shape": {"field": "d", "type": "nominal", "scale": {"domain": ["L", "R"], "range": ["triangle-left", "triangle-right"]}, "legend": null}}},
{"data": {"name": "arrowNavy"}, "mark": {"type": "rule", "color": "#333399", "strokeWidth": 2}, "encoding": {"x2": {"field": "x2"}}},
{"data": {"name": "headNavy"}, "mark": {"type": "point", "filled": true, "color": "#333399", "size": 50, "opacity": 1, "shape": "triangle-right"}},
{"data": {"name": "frameNavy"}, "mark": {"type": "rule", "color": "#333399", "strokeWidth": 2.5}, "encoding": {"x2": {"field": "x2"}, "y2": {"field": "y2"}}},
{"data": {"name": "frameDark"}, "mark": {"type": "rule", "color": "#1A1A3A", "strokeWidth": 2}, "encoding": {"x2": {"field": "x2"}, "y2": {"field": "y2"}}},
{"data": {"name": "titles"}, "mark": {"type": "text", "font": "Liberation Sans", "fontSize": 40, "color": "#333399", "align": "center", "baseline": "alphabetic"}, "encoding": {"text": {"field": "t"}}},
{"data": {"name": "formLabels"}, "mark": {"type": "text", "font": "Liberation Sans", "fontSize": 26, "fontWeight": "bold", "color": "#333399", "align": "center", "baseline": "alphabetic"}, "encoding": {"text": {"field": "t"}}},
{"data": {"name": "curveLabels"}, "mark": {"type": "text", "font": "Liberation Sans", "fontSize": 22, "fontWeight": "bold", "color": "#333399", "align": "left", "baseline": "alphabetic"}, "encoding": {"text": {"field": "t"}}},
{"data": {"name": "gasLabels"}, "mark": {"type": "text", "font": "Liberation Sans", "fontSize": 15, "fontWeight": "bold", "color": "#333399", "align": "left", "baseline": "alphabetic"}, "encoding": {"text": {"field": "t"}}},
{"data": {"name": "trackLabels"}, "mark": {"type": "text", "font": "Liberation Sans", "fontSize": 15, "fontWeight": "bold", "color": "#333399", "align": "center", "baseline": "alphabetic"}, "encoding": {"text": {"field": "t"}}},
{"data": {"name": "nums"}, "mark": {"type": "text", "font": "Liberation Sans", "fontSize": 15, "color": "#000000", "align": "center", "baseline": "alphabetic"}, "encoding": {"text": {"field": "t"}}},
{"data": {"name": "capBold"}, "mark": {"type": "text", "font": "DejaVu Serif", "fontSize": 20, "fontWeight": "bold", "color": "#000000", "align": "left", "baseline": "alphabetic"}, "encoding": {"text": {"field": "t"}}},
{"data": {"name": "capItalic"}, "mark": {"type": "text", "font": "DejaVu Serif", "fontSize": 18.8, "fontStyle": "italic", "color": "#000000", "align": "left", "baseline": "alphabetic"}, "encoding": {"text": {"field": "t"}}}
]
}
